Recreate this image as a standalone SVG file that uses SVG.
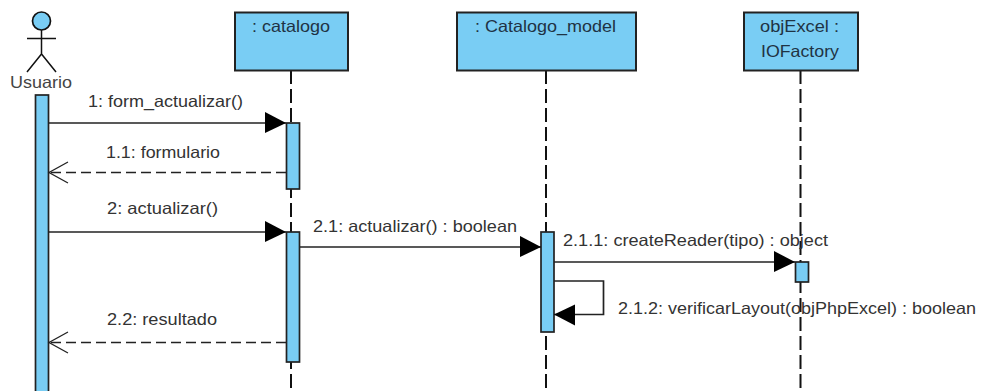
<svg xmlns="http://www.w3.org/2000/svg" width="984" height="391" viewBox="0 0 984 391">
<style>
text{font-family:"Liberation Sans",Arial,sans-serif;font-size:16.500px;fill:#333}
.c{fill:#1f3344}
.box{fill:#79cdf4;stroke:#222;stroke-width:2}
.act{fill:#79cdf4;stroke:#222;stroke-width:1.7}
.life{fill:none;stroke:#111;stroke-width:2;stroke-dasharray:14 5}
.msg{fill:none;stroke:#222;stroke-width:1.7}
.ret{fill:none;stroke:#222;stroke-width:1.7;stroke-dasharray:10 5}
.open{fill:none;stroke:#222;stroke-width:1.3}
</style>
<defs>
<marker id="solid" markerUnits="userSpaceOnUse" markerWidth="22" markerHeight="22" refX="21" refY="11" orient="auto"><path d="M0 0L21 11L0 21Z" fill="#000"/></marker>
</defs>
<g id="lifelines">
<path class="life" d="M291 70V391"/>
<path class="life" d="M546 70V391"/>
<path class="life" d="M800.500 70V391"/>
</g>
<g id="usuario">
<circle cx="41.500" cy="21" r="9" fill="#79cdf4" stroke="#111" stroke-width="1.700"/>
<path d="M41.500 30V54M27 38.500H56M27 72L41.500 54L56 72" fill="none" stroke="#111" stroke-width="1.500"/>
<text x="10" y="88" textLength="62" lengthAdjust="spacingAndGlyphs" style="fill:#444">Usuario</text>
<rect class="act" x="35.500" y="95" width="13" height="300"/>
</g>
<g id="catalogo">
<rect class="box" x="235" y="12.500" width="113" height="58"/>
<text class="c" x="252" y="32" textLength="78" lengthAdjust="spacingAndGlyphs">: catalogo</text>
<rect class="act" x="286.500" y="123" width="13" height="66"/>
<rect class="act" x="286.500" y="232" width="13" height="130"/>
</g>
<g id="catalogo_model">
<rect class="box" x="457" y="12.500" width="179" height="58"/>
<text class="c" x="475" y="32" textLength="141" lengthAdjust="spacingAndGlyphs">: Catalogo_model</text>
<rect class="act" x="541" y="232" width="13" height="100"/>
</g>
<g id="objExcel">
<rect class="box" x="744" y="12.500" width="114" height="58"/>
<text class="c" x="760" y="32" textLength="79" lengthAdjust="spacingAndGlyphs">objExcel :</text>
<text class="c" x="761" y="57" textLength="78" lengthAdjust="spacingAndGlyphs">IOFactory</text>
<rect class="act" x="795.500" y="262" width="13" height="20"/>
</g>
<g id="connectors">
<path class="msg" d="M48.500 123H286" marker-end="url(#solid)"/>
<path class="ret" d="M286 172.500H49"/>
<path class="open" d="M68 162L49 172.500L68 183"/>
<path class="msg" d="M48.500 232H286" marker-end="url(#solid)"/>
<path class="msg" d="M300 247H541" marker-end="url(#solid)"/>
<path class="msg" d="M554 262H795" marker-end="url(#solid)"/>
<path class="msg" d="M554 281H603.500V314.500H554" marker-end="url(#solid)"/>
<path class="ret" d="M286 342.500H49"/>
<path class="open" d="M68 332L49 342.500L68 353"/>
</g>
<g id="labels">
<text x="88" y="107" textLength="155" lengthAdjust="spacingAndGlyphs">1: form_actualizar()</text>
<text x="106" y="158" textLength="114" lengthAdjust="spacingAndGlyphs">1.1: formulario</text>
<text x="107" y="214" textLength="111" lengthAdjust="spacingAndGlyphs">2: actualizar()</text>
<text x="313" y="232" textLength="204" lengthAdjust="spacingAndGlyphs">2.1: actualizar() : boolean</text>
<text x="563" y="246" textLength="265" lengthAdjust="spacingAndGlyphs">2.1.1: createReader(tipo) : object</text>
<text x="618" y="314" textLength="358" lengthAdjust="spacingAndGlyphs">2.1.2: verificarLayout(objPhpExcel) : boolean</text>
<text x="107" y="325" textLength="110" lengthAdjust="spacingAndGlyphs">2.2: resultado</text>
</g>
</svg>
